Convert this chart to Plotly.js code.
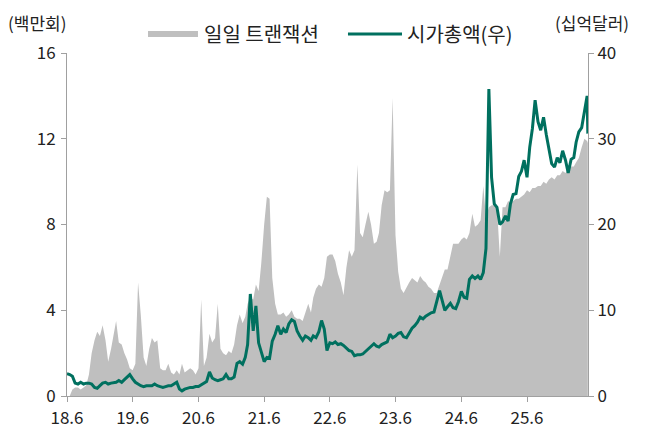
<!DOCTYPE html>
<html>
<head>
<meta charset="utf-8">
<script src="https://cdn.plot.ly/plotly-3.0.1.min.js"></script>
<style>
  html, body { margin: 0; padding: 0; background: #ffffff; }
  #chart { width: 646px; height: 428px; }
</style>
</head>
<body>
<div id="chart"></div>
<script>
// Half-monthly observation dates
const dates = [
  '2018-06-01','2018-06-16','2018-07-01','2018-07-16','2018-08-01','2018-08-16','2018-09-01','2018-09-16','2018-10-01','2018-10-16','2018-11-01','2018-11-16','2018-12-01','2018-12-16',
  '2019-01-01','2019-01-16','2019-02-01','2019-02-16','2019-03-01','2019-03-16','2019-04-01','2019-04-16','2019-05-01','2019-05-16','2019-06-01','2019-06-16','2019-07-01','2019-07-16','2019-08-01','2019-08-16','2019-09-01','2019-09-16','2019-10-01','2019-10-16','2019-11-01','2019-11-16','2019-12-01','2019-12-16',
  '2020-01-01','2020-01-16','2020-02-01','2020-02-16','2020-03-01','2020-03-16','2020-04-01','2020-04-16','2020-05-01','2020-05-16','2020-06-01','2020-06-16','2020-07-01','2020-07-16','2020-08-01','2020-08-16','2020-09-01','2020-09-16','2020-10-01','2020-10-16','2020-11-01','2020-11-16','2020-12-01','2020-12-16',
  '2021-01-01','2021-01-16','2021-02-01','2021-02-16','2021-03-01','2021-03-16','2021-04-01','2021-04-16','2021-05-01','2021-05-16','2021-06-01','2021-06-16','2021-07-01','2021-07-16','2021-08-01','2021-08-16','2021-09-01','2021-09-16','2021-10-01','2021-10-16','2021-11-01','2021-11-16','2021-12-01','2021-12-16',
  '2022-01-01','2022-01-16','2022-02-01','2022-02-16','2022-03-01','2022-03-16','2022-04-01','2022-04-16','2022-05-01','2022-05-16','2022-06-01','2022-06-16','2022-07-01','2022-07-16','2022-08-01','2022-08-16','2022-09-01','2022-09-16','2022-10-01','2022-10-16','2022-11-01','2022-11-16','2022-12-01','2022-12-16',
  '2023-01-01','2023-01-16','2023-02-01','2023-02-16','2023-03-01','2023-03-16','2023-04-01','2023-04-16','2023-05-01','2023-05-16','2023-06-01','2023-06-16','2023-07-01','2023-07-16','2023-08-01','2023-08-16','2023-09-01','2023-09-16','2023-10-01','2023-10-16','2023-11-01','2023-11-16','2023-12-01','2023-12-16',
  '2024-01-01','2024-01-16','2024-02-01','2024-02-16','2024-03-01','2024-03-16','2024-04-01','2024-04-16','2024-05-01','2024-05-16','2024-06-01','2024-06-16','2024-07-01','2024-07-16','2024-08-01','2024-08-16','2024-09-01','2024-09-16','2024-10-01','2024-10-16','2024-11-01','2024-11-16','2024-12-01','2024-12-16',
  '2025-01-01','2025-01-16','2025-02-01','2025-02-16','2025-03-01','2025-03-16','2025-04-01','2025-04-16','2025-05-01','2025-05-16','2025-06-01','2025-06-16','2025-07-01','2025-07-16','2025-08-01','2025-08-16','2025-09-01','2025-09-16','2025-10-01','2025-10-16','2025-11-01','2025-11-16','2025-12-01','2025-12-16',
  '2026-01-01','2026-01-16','2026-02-01','2026-02-16','2026-03-01','2026-03-16','2026-04-01','2026-04-16','2026-05-01','2026-05-05'
];

// Daily transactions (millions) - left axis
const dailyTx = [
  0, 0, 0.3, 0.4, 0.4, 0.3, 0.4, 0.5, 1.0, 2.0,
  2.6, 3.0, 2.8, 3.3, 2.6, 1.6, 2.2, 3.0, 3.5, 2.5,
  2.4, 2.0, 1.7, 1.3, 1.2, 1.5, 5.3, 3.8, 1.8, 1.4,
  2.2, 2.7, 2.5, 2.6, 1.3, 1.2, 1.2, 1.5, 1.1, 1.0,
  1.2, 1.0, 1.5, 1.1, 1.2, 1.3, 1.2, 1.0, 1.3, 4.5,
  1.4, 1.8, 2.9, 2.5, 2.7, 4.3, 2.2, 2.0, 1.9, 2.1,
  2.0, 2.4, 3.3, 3.8, 3.4, 3.7, 4.3, 4.6, 4.5, 5.2,
  4.9, 6.2, 8.0, 9.3, 9.2, 5.5, 4.3, 3.8, 3.8, 3.9,
  3.7, 3.8, 4.0, 3.7, 3.6, 3.6, 3.5, 3.9, 4.3, 3.9,
  4.6, 5.0, 5.2, 5.1, 5.5, 6.5, 6.6, 6.6, 6.3, 5.7,
  5.3, 4.7, 6.0, 6.8, 6.5, 6.8, 10.8, 7.6, 7.4, 8.0,
  8.6, 8.0, 7.1, 7.2, 7.6, 8.9, 9.6, 9.5, 9.6, 13.9,
  7.5, 5.8, 5.0, 4.8, 5.1, 5.3, 5.5, 5.4, 5.3, 5.6,
  5.4, 5.3, 5.1, 5.0, 4.8, 4.8, 5.2, 5.5, 5.9, 5.9,
  6.6, 7.1, 7.1, 7.1, 7.3, 7.4, 7.3, 7.6, 8.5, 7.9,
  8.0, 8.2, 9.8, 8.3, 8.8, 8.9, 8.9, 8.8, 6.5, 8.8,
  8.8, 9.1, 9.0, 9.1, 9.2, 9.2, 9.3, 9.4, 9.6, 9.5,
  9.7, 9.7, 9.8, 9.8, 10.0, 9.9, 10.1, 10.2, 10.1, 10.3,
  10.3, 10.5, 10.4, 10.6, 10.7, 10.7, 10.9, 11.1, 11.6, 12.0,
  11.9, 11.8
];

// Market cap (billion USD) - right axis
const marketCap = [
  2.6, 2.5, 2.3, 1.5, 1.4, 1.6, 1.4, 1.5, 1.5, 1.4,
  1.0, 0.9, 1.2, 1.5, 1.6, 1.4, 1.5, 1.6, 1.6, 1.8,
  1.6, 1.9, 2.2, 2.5, 2.0, 1.6, 1.4, 1.2, 1.1, 1.2,
  1.2, 1.2, 1.4, 1.2, 1.1, 1.0, 1.1, 1.2, 1.2, 1.4,
  1.6, 0.8, 0.6, 0.8, 0.9, 1.0, 1.0, 1.1, 1.1, 1.3,
  1.6, 1.7, 2.8, 2.1, 1.9, 1.8, 1.9, 2.0, 2.5, 2.0,
  2.0, 2.2, 3.8, 4.0, 3.7, 4.5, 6.0, 11.9, 7.6, 10.5,
  6.2, 5.2, 4.0, 4.5, 4.4, 6.4, 7.2, 8.2, 7.2, 7.8,
  7.4, 8.4, 8.9, 8.7, 7.6, 7.0, 6.5, 7.0, 6.8, 6.5,
  7.0, 6.8, 7.5, 8.8, 7.8, 5.3, 6.2, 6.1, 6.3, 6.0,
  6.1, 5.9, 5.6, 5.3, 5.2, 4.7, 4.8, 4.8, 4.9, 5.2,
  5.4, 5.7, 6.1, 5.8, 5.7, 6.0, 6.2, 6.3, 7.2, 6.8,
  7.0, 7.3, 7.4, 6.9, 6.8, 7.4, 7.9, 8.2, 8.6, 9.2,
  9.0, 9.3, 9.5, 9.7, 9.8, 11.0, 12.3, 11.1, 10.0, 10.4,
  10.8, 10.3, 10.2, 11.0, 12.2, 11.5, 11.4, 13.6, 14.0, 13.7,
  14.0, 13.6, 14.4, 17.2, 35.8, 25.5, 22.4, 22.0, 20.0, 20.3,
  21.0, 20.4, 22.4, 23.5, 23.6, 25.6, 26.2, 27.5, 25.5, 29.0,
  31.2, 34.5, 32.0, 31.0, 32.5, 30.5, 28.6, 27.1, 26.7, 27.8,
  27.2, 28.6, 27.5, 26.0, 27.6, 27.8, 29.6, 30.8, 31.3, 33.2,
  35.0, 30.6
];

const xTickVals = ['2018-06-01','2019-06-01','2020-06-01','2021-06-01','2022-06-01','2023-06-01','2024-06-01','2025-06-01'];
const xTickText = ['18.6','19.6','20.6','21.6','22.6','23.6','24.6','25.6'];
const leftTicks = [0, 4, 8, 12, 16];
const rightTicks = [0, 10, 20, 30, 40];

const seriesNames = ['일일 트랜잭션', '시가총액(우)'];
const leftUnit = '(백만회)';
const rightUnit = '(십억달러)';

const FONT = '"Noto Sans CJK KR", "Noto Sans", sans-serif';
const GRAY = '#bfbfbf';
const GREEN = '#00705f';
const AXIS = '#a0a0a0';

const traces = [
  {
    type: 'scatter', mode: 'lines', name: seriesNames[0],
    x: dates, y: dailyTx, yaxis: 'y',
    fill: 'tozeroy', fillcolor: GRAY,
    line: { width: 0, color: GRAY },
    showlegend: false, hoverinfo: 'skip'
  },
  {
    type: 'scatter', mode: 'lines', name: seriesNames[1],
    x: dates, y: marketCap, yaxis: 'y2',
    line: { width: 3, color: GREEN },
    showlegend: false, hoverinfo: 'skip'
  }
];

const axisCommon = {
  showgrid: false, zeroline: false, showline: true,
  linecolor: AXIS, linewidth: 1,
  ticks: 'outside', ticklen: 5, tickcolor: AXIS, tickwidth: 1,
  tickfont: { family: FONT, size: 17, color: '#222' },
  fixedrange: true
};

const layout = {
  width: 646, height: 428,
  margin: { l: 67, r: 58, t: 53, b: 32 },
  paper_bgcolor: '#ffffff', plot_bgcolor: '#ffffff',
  showlegend: false,
  font: { family: FONT, size: 17, color: '#222' },
  xaxis: Object.assign({}, axisCommon, {
    type: 'date',
    range: ['2018-06-01', '2026-05-06'],
    tickmode: 'array', tickvals: xTickVals, ticktext: xTickText,
    ticklabelstandoff: 2
  }),
  yaxis: Object.assign({}, axisCommon, {
    range: [0, 16], tickmode: 'array', tickvals: leftTicks,
    ticklabelstandoff: 2
  }),
  yaxis2: Object.assign({}, axisCommon, {
    overlaying: 'y', side: 'right',
    range: [0, 40], tickmode: 'array', tickvals: rightTicks
  }),
  shapes: [
    { type: 'rect', xref: 'paper', yref: 'paper',
      x0: 0.1555, x1: 0.2514, y0: 1.0466, y1: 1.0641,
      fillcolor: GRAY, line: { width: 0 } },
    { type: 'line', xref: 'paper', yref: 'paper',
      x0: 0.5393, x1: 0.6430, y0: 1.0554, y1: 1.0554,
      line: { color: GREEN, width: 3 } }
  ],
  annotations: [
    { text: leftUnit, xref: 'paper', yref: 'paper', x: -0.057, y: 1.0875,
      xanchor: 'center', yanchor: 'middle', showarrow: false,
      font: { family: FONT, size: 17, color: '#222' } },
    { text: rightUnit, xref: 'paper', yref: 'paper', x: 1.0077, y: 1.0875,
      xanchor: 'center', yanchor: 'middle', showarrow: false,
      font: { family: FONT, size: 17, color: '#222' } },
    { text: seriesNames[0], xref: 'paper', yref: 'paper', x: 0.2591, y: 1.0554,
      xanchor: 'left', yanchor: 'middle', showarrow: false,
      font: { family: FONT, size: 20, color: '#222' } },
    { text: seriesNames[1], xref: 'paper', yref: 'paper', x: 0.6488, y: 1.0554,
      xanchor: 'left', yanchor: 'middle', showarrow: false,
      font: { family: FONT, size: 20, color: '#222' } }
  ]
};

Plotly.newPlot('chart', traces, layout, { displayModeBar: false, staticPlot: true });
</script>
</body>
</html>
